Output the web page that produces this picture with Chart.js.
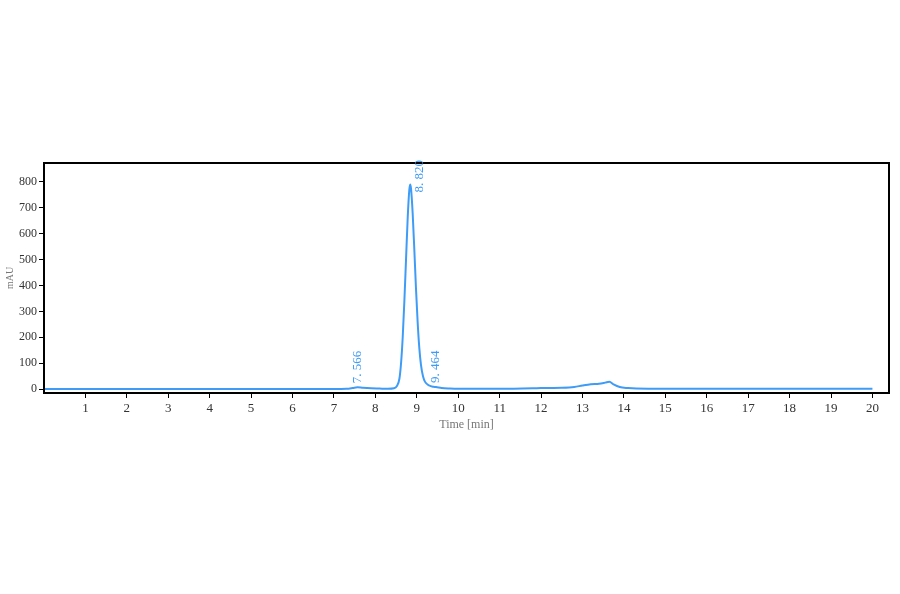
<!DOCTYPE html>
<html>
<head>
<meta charset="utf-8">
<script src="https://cdn.jsdelivr.net/npm/chart.js@4"></script>
<style>
  html, body { margin: 0; padding: 0; background: #fff; }
  #wrap { width: 900px; height: 594px; }
</style>
</head>
<body>
<div id="wrap"><canvas id="chrom"></canvas></div>
<script>
// retention time (min) and signal (mAU)
const times = [0, 1, 2, 3, 4, 5, 6, 7, 7.3, 7.45, 7.566, 7.7, 7.9, 8.1, 8.3, 8.45, 8.52, 8.58, 8.62, 8.66,
  8.70, 8.74, 8.78, 8.82, 8.84, 8.86, 8.90, 8.94, 8.98, 9.02, 9.06, 9.10, 9.15, 9.20, 9.30, 9.40, 9.464,
  9.6, 9.8, 10, 11, 11.8, 12, 12.5, 12.8, 13.0, 13.2, 13.4, 13.55, 13.65, 13.75, 13.9, 14.1, 14.3, 15,
  16, 17, 18, 19, 20];
const mAU = [0, 0, 0, 0, 0, 0, 0, 0, 1, 4, 7, 5, 3, 2, 1, 3, 12, 40, 100, 200,
  340, 500, 660, 770, 790, 775, 680, 540, 390, 260, 160, 95, 50, 28, 14, 9, 8,
  4, 2, 1, 1, 3, 4, 5, 8, 14, 19, 21, 25, 28, 18, 8, 4, 2, 1,
  1, 1, 1, 1, 1];

const peakTimes = [7.566, 8.820, 9.464];
const peakHeights = [7, 790, 8];
const peakLabels = ['7. 566', '8. 820', '9. 464'];

const xTicks = [1, 2, 3, 4, 5, 6, 7, 8, 9, 10, 11, 12, 13, 14, 15, 16, 17, 18, 19, 20];
const yTicks = [0, 100, 200, 300, 400, 500, 600, 700, 800];

const lineColor = '#3f9cf6';
const serif = '"Liberation Serif", "DejaVu Serif", serif';

// frame round the plot and rotated peak labels
const extras = {
  id: 'extras',
  afterDatasetsDraw(chart) {
    const { ctx, chartArea: a, scales: { x, y } } = chart;
    ctx.save();
    ctx.strokeStyle = '#000';
    ctx.lineWidth = 2;
    ctx.strokeRect(a.left, a.top, a.right - a.left, a.bottom - a.top);

    ctx.fillStyle = lineColor;
    ctx.font = '13px ' + serif;
    ctx.textBaseline = 'middle';
    ctx.textAlign = 'left';
    peakTimes.forEach((t, i) => {
      let px = x.getPixelForValue(t);
      let py = y.getPixelForValue(peakHeights[i]) - 4;
      // tall peak: label sits beside the apex
      if (peakHeights[i] > 500) { px += 10; py += 12; }
      ctx.save();
      ctx.translate(px, py);
      ctx.rotate(-Math.PI / 2);
      ctx.fillText(peakLabels[i], 0, 0);
      ctx.restore();
    });
    ctx.restore();
  }
};

new Chart(document.getElementById('chrom'), {
  type: 'line',
  data: {
    datasets: [{
      data: times.map((t, i) => ({ x: t, y: mAU[i] })),
      borderColor: lineColor,
      borderWidth: 2,
      pointRadius: 0,
      cubicInterpolationMode: 'monotone',
      fill: false
    }]
  },
  options: {
    responsive: true,
    maintainAspectRatio: false,
    animation: false,
    layout: { padding: { left: 4, top: 163, right: 11, bottom: 158 } },
    plugins: { legend: { display: false }, tooltip: { enabled: false } },
    scales: {
      x: {
        type: 'linear',
        min: 0,
        max: 20.4,
        afterBuildTicks: s => { s.ticks = xTicks.map(v => ({ value: v })); },
        afterFit: s => { s.height = 43; },
        grid: { drawOnChartArea: false, drawTicks: true, tickLength: 5, color: '#000' },
        border: { color: '#000', width: 2 },
        ticks: { color: '#333', font: { family: serif, size: 13 }, padding: 3, maxRotation: 0 },
        title: { display: true, text: 'Time [min]', color: '#777', font: { family: serif, size: 12 }, padding: { top: 0 } }
      },
      y: {
        min: -15,
        max: 873,
        afterBuildTicks: s => { s.ticks = yTicks.map(v => ({ value: v })); },
        afterFit: s => { s.width = 40; },
        grid: { drawOnChartArea: false, drawTicks: true, tickLength: 5, color: '#000' },
        border: { color: '#000', width: 2 },
        ticks: { color: '#333', font: { family: serif, size: 12 }, padding: 2 },
        title: { display: true, text: 'mAU', color: '#777', font: { family: serif, size: 10 }, padding: 0 }
      }
    }
  },
  plugins: [extras]
});
</script>
</body>
</html>
